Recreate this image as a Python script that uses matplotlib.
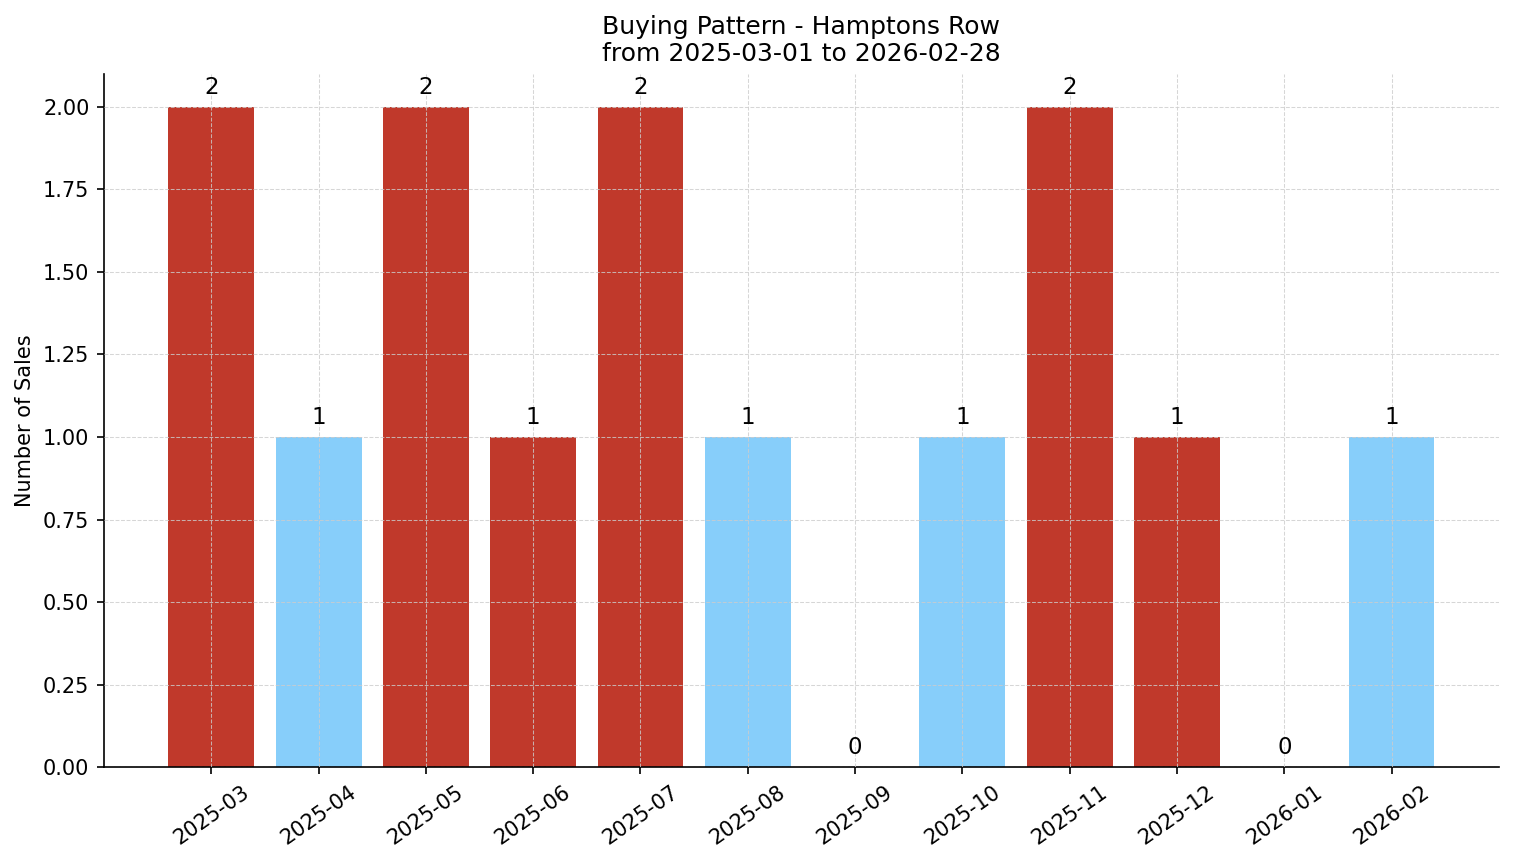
import matplotlib
matplotlib.use("Agg")
import matplotlib.pyplot as plt

months = ["2025-03", "2025-04", "2025-05", "2025-06", "2025-07", "2025-08",
          "2025-09", "2025-10", "2025-11", "2025-12", "2026-01", "2026-02"]
sales = [2, 1, 2, 1, 2, 1, 0, 1, 2, 1, 0, 1]
bar_colors = ["#c0392b", "#87cefa", "#c0392b", "#c0392b", "#c0392b", "#87cefa",
              "#87cefa", "#87cefa", "#c0392b", "#c0392b", "#87cefa", "#87cefa"]

DPI = 150
fig = plt.figure(figsize=(1514 / DPI, 863 / DPI), dpi=DPI)
ax = fig.add_axes([0.0687, 0.1112, 0.9213, 0.8031])
x = list(range(len(months)))
ax.bar(x, sales, width=0.8, color=bar_colors, zorder=2)
for xi, v in zip(x, sales):
    ax.text(xi, v + 0.025, str(v), ha="center", va="bottom", fontsize=11)

ax.set_xticks(x)
ax.set_xticklabels(months, rotation=35, ha="center", fontsize=10)
ax.tick_params(axis="y", labelsize=10)
ax.yaxis.set_major_formatter(matplotlib.ticker.FormatStrFormatter("%.2f"))
ax.set_yticks([0, 0.25, 0.5, 0.75, 1.0, 1.25, 1.5, 1.75, 2.0])
ax.set_xlim(-1, 12)
ax.set_ylim(0, 2.1)
ax.set_ylabel("Number of Sales", fontsize=10)
ax.set_title("Buying Pattern - Hamptons Row\nfrom 2025-03-01 to 2026-02-28", fontsize=12)
ax.grid(True, linestyle="--", color="#cccccc", linewidth=0.5, alpha=0.8, zorder=3)
ax.set_axisbelow(False)
ax.spines["top"].set_visible(False)
ax.spines["right"].set_visible(False)

fig.savefig("out.png", dpi=DPI)
